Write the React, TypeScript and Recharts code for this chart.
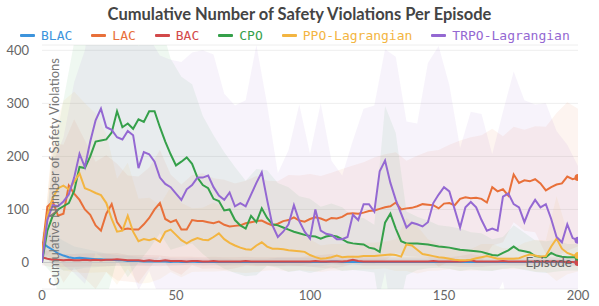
import React from 'react';
import { ComposedChart, Line, Area, XAxis, YAxis, CartesianGrid, ReferenceLine, Label } from 'recharts';

// mean violations, one value every 2 episodes (0, 2, ... 200)
const BLAC = [
  38, 30, 24, 17, 13, 10, 8, 9, 8, 7,
  6, 6, 5, 5, 4, 4, 3, 3, 3, 2,
  2, 2, 2, 2, 1, 2, 1, 1, 2, 1,
  1, 1, 1, 1, 1, 1, 1, 1, 1, 1,
  1, 1, 1, 1, 1, 1, 1, 1, 1, 1,
  1, 1, 1, 1, 2, 2, 1, 1, 1, 1,
  1, 1, 1, 1, 1, 1, 1, 1, 1, 1,
  1, 1, 1, 1, 1, 1, 1, 1, 1, 1,
  1, 1, 1, 1, 1, 1, 1, 1, 1, 1,
  1, 1, 1, 1, 1, 1, 1, 1, 1, 1,
  1,
];
const LAC = [
  20, 105, 115, 88, 92, 145, 130, 118, 100, 90,
  70, 60, 92, 110, 76, 62, 64, 62, 62, 72,
  84, 100, 112, 82, 76, 80, 62, 62, 80, 78,
  78, 76, 74, 77, 71, 68, 69, 70, 74, 76,
  78, 79, 74, 70, 73, 78, 80, 85, 79, 77,
  82, 85, 83, 79, 84, 83, 86, 92, 93, 92,
  94, 97, 98, 101, 104, 106, 113, 100, 102, 103,
  106, 110, 109, 108, 102, 111, 112, 108, 120, 123,
  121, 122, 120, 113, 142, 134, 138, 126, 166, 150,
  155, 153, 157, 149, 136, 142, 147, 149, 162, 157,
  160,
];
const BAC = [
  10, 7, 5, 5, 4, 5, 4, 4, 5, 4,
  5, 4, 5, 5, 6, 5, 4, 4, 4, 3,
  4, 3, 3, 4, 3, 3, 3, 2, 3, 3,
  2, 2, 3, 2, 2, 2, 2, 2, 3, 2,
  2, 2, 2, 2, 2, 2, 2, 2, 2, 2,
  2, 3, 2, 2, 2, 2, 2, 3, 5, 3,
  2, 2, 2, 2, 2, 2, 2, 2, 2, 2,
  2, 2, 2, 3, 2, 2, 2, 2, 2, 3,
  4, 2, 2, 2, 2, 2, 3, 2, 2, 2,
  2, 2, 2, 2, 2, 2, 2, 2, 1, 1,
  0,
];
const CPO = [
  0, 60, 88, 100, 106, 112, 135, 180, 178, 200,
  228, 230, 232, 245, 285, 255, 262, 252, 270, 265,
  285, 285, 255, 228, 204, 183, 190, 198, 186, 160,
  146, 140, 120, 116, 98, 100, 80, 70, 64, 88,
  76, 102, 84, 72, 70, 66, 62, 58, 55, 52,
  50, 49, 45, 49, 51, 49, 44, 38, 36, 35,
  34, 28, 26, 20, 75, 92, 64, 40, 36, 36,
  36, 35, 34, 32, 30, 29, 28, 26, 24, 23,
  22, 21, 20, 17, 14, 13, 18, 23, 30, 23,
  21, 19, 12, 11, 10, 18, 13, 11, 10, 10,
  10,
];
const PPO_LAG = [
  10, 88, 122, 140, 145, 138, 152, 168, 140, 136,
  131, 127, 112, 82, 58, 60, 88, 58, 40, 44,
  42, 45, 39, 58, 62, 52, 42, 36, 42, 46,
  43, 42, 48, 55, 44, 37, 32, 28, 25, 24,
  32, 38, 30, 26, 26, 25, 23, 22, 21, 20,
  14, 10, 7, 8, 10, 13, 10, 11, 11, 11,
  12, 12, 12, 13, 14, 15, 14, 11, 34, 32,
  24, 16, 14, 12, 10, 9, 7, 5, 4, 4,
  5, 8, 10, 12, 10, 7, 7, 7, 7, 8,
  12, 15, 13, 11, 12, 30, 45, 26, 18, 14,
  13,
];
const TRPO_LAG = [
  0, 80, 108, 106, 115, 128, 160, 205, 180, 228,
  268, 290, 255, 250, 236, 232, 248, 240, 178, 208,
  204, 190, 160, 148, 142, 130, 118, 138, 146, 160,
  160, 164, 142, 126, 118, 132, 106, 112, 106, 128,
  150, 170, 118, 70, 48, 58, 72, 108, 78, 58,
  45, 100, 60, 54, 52, 44, 44, 48, 90, 80,
  110, 110, 96, 172, 192, 150, 118, 92, 66, 75,
  72, 68, 76, 112, 128, 142, 134, 100, 66, 104,
  114, 104, 80, 60, 64, 60, 124, 130, 110, 104,
  76, 102, 118, 104, 110, 82, 48, 38, 72, 46,
  42,
];

// spread (std) of each series, one value every 4 episodes (0, 4, ... 200)
const BLAC_STD = [
  20, 30, 28, 22, 18, 15, 12, 10, 10, 8,
  8, 7, 7, 6, 6, 6, 6, 6, 5, 5,
  6, 6, 8, 8, 8, 8, 8, 6, 6, 6,
  6, 6, 6, 6, 6, 6, 6, 6, 6, 6,
  6, 6, 6, 6, 6, 6, 6, 6, 6, 6,
  6,
];
const LAC_STD = [
  0, 110, 130, 140, 130, 120, 110, 110, 100, 100,
  95, 100, 90, 85, 85, 90, 85, 85, 80, 80,
  85, 80, 80, 85, 85, 85, 80, 85, 90, 90,
  95, 100, 100, 95, 90, 95, 100, 110, 110, 110,
  115, 120, 110, 100, 90, 95, 100, 120, 135, 140,
  130,
];
const BAC_STD = [
  15, 14, 12, 12, 12, 12, 12, 12, 10, 10,
  10, 10, 8, 8, 8, 8, 8, 8, 8, 8,
  8, 8, 8, 8, 8, 10, 12, 14, 10, 8,
  8, 8, 8, 8, 8, 8, 8, 8, 8, 10,
  12, 10, 8, 8, 8, 8, 8, 8, 8, 8,
  6,
];
const CPO_STD = [
  0, 110, 200, 280, 300, 290, 300, 280, 290, 270,
  260, 200, 180, 160, 150, 130, 120, 110, 100, 90,
  100, 90, 80, 80, 70, 70, 60, 60, 60, 50,
  50, 45, 220, 180, 60, 50, 45, 40, 40, 40,
  35, 35, 30, 30, 40, 35, 30, 30, 30, 25,
  25,
];
const PPO_LAG_STD = [
  0, 120, 160, 170, 160, 150, 130, 100, 100, 80,
  80, 70, 80, 70, 60, 60, 65, 60, 50, 45,
  50, 45, 40, 40, 35, 30, 25, 25, 25, 25,
  25, 25, 25, 30, 50, 45, 30, 25, 20, 20,
  20, 25, 25, 20, 20, 25, 30, 30, 80, 40,
  30,
];
const TRPO_LAG_STD = [
  0, 80, 120, 180, 220, 250, 250, 230, 240, 230,
  220, 230, 240, 260, 250, 240, 250, 200, 190, 200,
  260, 180, 120, 140, 220, 160, 240, 140, 120, 140,
  180, 200, 210, 270, 200, 190, 300, 280, 200, 150,
  170, 200, 140, 160, 250, 230, 180, 190, 200, 150,
  140,
];

const X_TICKS = [0, 50, 100, 150, 200];
const Y_TICKS = [0, 100, 200, 300, 400];

const SERIES = [
  { name: 'BLAC', color: '#3d94dc', mean: BLAC, std: BLAC_STD },
  { name: 'LAC', color: '#e8703a', mean: LAC, std: LAC_STD },
  { name: 'BAC', color: '#d2494a', mean: BAC, std: BAC_STD },
  { name: 'CPO', color: '#35a04a', mean: CPO, std: CPO_STD },
  { name: 'PPO-Lagrangian', color: '#f3b541', mean: PPO_LAG, std: PPO_LAG_STD },
  { name: 'TRPO-Lagrangian', color: '#9468d2', mean: TRPO_LAG, std: TRPO_LAG_STD },
];

const toLine = (mean: number[]) => mean.map((v, i) => ({ ep: i * 2, v }));
const toBand = (mean: number[], std: number[]) =>
  std.map((s, j) => {
    const m = mean[j * 2];
    return { ep: j * 4, band: [m - s, m + s] };
  });

const TICK_STYLE = { fill: '#666', fontSize: 13, fontFamily: 'Lato, sans-serif' };

export default function App() {
  return (
    <div style={{ position: 'relative', width: 599, height: 306, background: '#fff' }}>
      <style>{'body{margin:0}'}</style>
      <div
        style={{
          position: 'absolute', top: 4, left: 0, width: 599, textAlign: 'center',
          fontFamily: 'Lato, sans-serif', fontWeight: 700, fontSize: 16.5, color: '#444',
        }}
      >
        Cumulative Number of Safety Violations Per Episode
      </div>
      <div
        style={{
          position: 'absolute', top: 28, left: 20, display: 'flex', alignItems: 'center',
          fontFamily: '"DejaVu Sans Mono", monospace', fontSize: 13,
        }}
      >
        {SERIES.map((s) => (
          <div key={s.name} style={{ display: 'flex', alignItems: 'center', marginRight: 19 }}>
            <div style={{ width: 15, height: 3, borderRadius: 1, background: s.color, marginRight: 6 }} />
            <span style={{ color: s.color }}>{s.name}</span>
          </div>
        ))}
      </div>
      <ComposedChart width={599} height={306} margin={{ top: 45, right: 21, bottom: 0, left: 0 }}>
        <CartesianGrid stroke="#eeeeee" vertical={false} />
        <XAxis
          type="number"
          dataKey="ep"
          domain={[0, 200]}
          ticks={X_TICKS}
          allowDataOverflow
          axisLine={false}
          tickLine={false}
          tickSize={0}
          tickMargin={2}
          height={17}
          tick={TICK_STYLE}
        >
          <Label
            content={() => (
              <text x={572} y={262} dy="0.35em" textAnchor="end" fill="#666" fontSize={13.5} fontFamily="Lato, sans-serif">
                Episode
              </text>
            )}
          />
        </XAxis>
        <YAxis
          type="number"
          domain={[-50, 410]}
          ticks={Y_TICKS}
          allowDataOverflow
          axisLine={false}
          tickLine={false}
          tickSize={0}
          tickMargin={13}
          width={42}
          tick={TICK_STYLE}
        >
          <Label
            content={() => (
              <text
                x={54}
                y={172}
                dy="0.35em"
                transform="rotate(-90 54 172)"
                textAnchor="middle"
                fill="#777"
                fontSize={13}
                fontFamily="Lato, sans-serif"
              >
                Cumulative Number of Safety Violations
              </text>
            )}
          />
        </YAxis>
        <ReferenceLine y={0} stroke="#c8c8c8" strokeWidth={1} />
        {SERIES.map((s) => (
          <Area
            key={s.name + '-band'}
            data={toBand(s.mean, s.std)}
            dataKey="band"
            type="linear"
            stroke="none"
            fill={s.color}
            fillOpacity={0.08}
            activeDot={false}
            isAnimationActive={false}
          />
        ))}
        {SERIES.map((s) => {
          const last = s.mean.length - 1;
          return (
            <Line
              key={s.name}
              data={toLine(s.mean)}
              dataKey="v"
              type="linear"
              stroke={s.color}
              strokeWidth={2}
              dot={(p: any) =>
                p.index === last ? (
                  <circle key={p.index} cx={p.cx} cy={p.cy} r={3.5} fill={s.color} />
                ) : (
                  <g key={p.index} />
                )
              }
              activeDot={false}
              isAnimationActive={false}
            />
          );
        })}
      </ComposedChart>
    </div>
  );
}
